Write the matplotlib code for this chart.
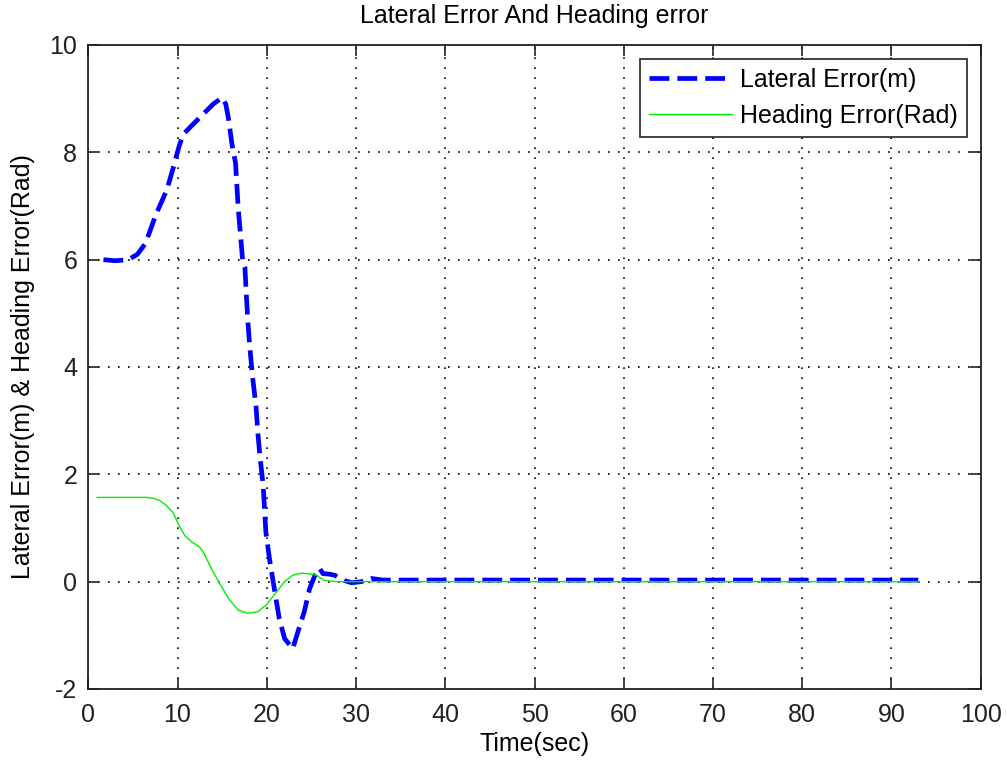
import matplotlib
matplotlib.use("Agg")
import matplotlib.pyplot as plt

plt.rcParams['font.family'] = ['Liberation Sans', 'DejaVu Sans']
plt.rcParams['axes.unicode_minus'] = False

# Lateral error (m) over time
lat_t = [1.7, 3.0, 4.5, 5.5, 6.4, 7.6, 8.8, 9.5, 10.1, 10.6, 11.6, 12.8, 14.0, 15.0,
         15.4, 15.7, 16.1, 16.5, 16.8, 17.3, 17.55, 17.7, 17.9, 18.1, 18.4, 18.8, 19.0,
         19.2, 19.6, 19.9, 20.3, 20.9, 21.4, 22.0, 22.9, 23.5, 24.2, 24.8, 25.4, 25.9,
         26.3, 27.0, 27.6, 28.7, 29.5, 30.6, 31.7, 33.0, 93.0]
lat_err = [6.0, 5.98, 6.0, 6.1, 6.3, 6.85, 7.3, 7.7, 8.07, 8.33, 8.5, 8.7, 8.9, 9.02,
           8.9, 8.64, 8.15, 7.8, 6.96, 5.98, 5.86, 5.37, 4.8, 4.37, 3.82, 3.26, 2.77,
           2.4, 1.78, 0.92, 0.43, -0.19, -0.69, -1.06, -1.25, -0.93, -0.56, -0.13, 0.12, 0.25,
           0.15, 0.14, 0.12, 0.02, -0.02, 0.0, 0.06, 0.03, 0.03]

# Heading error (rad) over time
head_t = [1.0, 6.6, 7.4, 8.0, 8.6, 9.5, 10.1, 10.8, 11.6, 12.5, 12.9, 13.8, 14.6, 15.7,
          16.8, 17.9, 19.0, 19.9, 21.1, 22.0, 22.9, 23.9, 25.4, 26.5, 28.0, 93.0]
head_err = [1.57, 1.57, 1.55, 1.51, 1.44, 1.29, 1.07, 0.86, 0.74, 0.64, 0.55, 0.24, 0.0,
            -0.31, -0.53, -0.59, -0.56, -0.44, -0.19, 0.0, 0.12, 0.16, 0.13, 0.02, 0.0, 0.0]

x_ticks = [0, 10, 20, 30, 40, 50, 60, 70, 80, 90, 100]
y_ticks = [-2, 0, 2, 4, 6, 8, 10]

fig = plt.figure(figsize=(10.07, 7.61), dpi=100)
ax = fig.add_axes([88.3 / 1007, 1 - 689 / 761, (980.7 - 88.3) / 1007, (689 - 45) / 761])

ax.plot(lat_t, lat_err, color='#0000FF', lw=3.4, dashes=(4.2, 1.7),
        label='Lateral Error(m)', zorder=3)
ax.plot(head_t, head_err, color='#00EE00', lw=1.0,
        label='Heading Error(Rad)', zorder=4)

ax.set_xlim(0, 100)
ax.set_ylim(-2, 10)
ax.set_xticks(x_ticks)
ax.set_yticks(y_ticks)
ax.tick_params(direction='in', length=8, width=1.2, top=True, right=True,
               labelsize=18, colors='#222222')
ax.tick_params(axis='x', pad=10)
ax.tick_params(axis='y', pad=8)
for s in ax.spines.values():
    s.set_linewidth(1.3)
    s.set_color('#222222')

ax.grid(True, color='black', linestyle=(0, (1, 5)), linewidth=1.2)

ax.set_title('Lateral Error And Heading error', fontsize=18, pad=16)
ax.set_xlabel('Time(sec)', fontsize=18, labelpad=4)
ax.set_ylabel('Lateral Error(m) & Heading Error(Rad)', fontsize=18, labelpad=10)

leg = ax.legend(loc='upper right', fontsize=18, fancybox=False, framealpha=1,
                edgecolor='#222222', handlelength=3.3, borderaxespad=0.55,
                borderpad=0.35, labelspacing=0.5, handletextpad=0.35)
leg.get_frame().set_linewidth(1.2)

fig.savefig('out.png', dpi=100)
